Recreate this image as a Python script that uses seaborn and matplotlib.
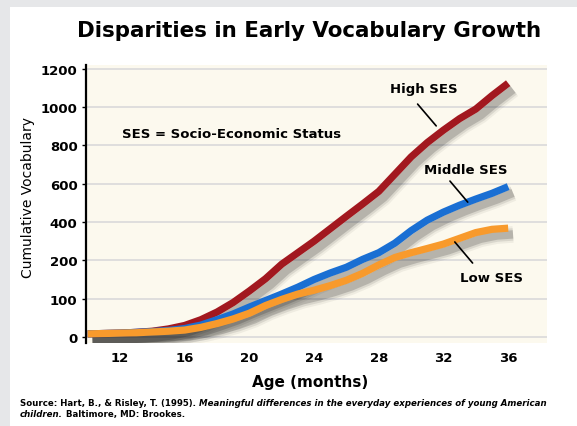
import numpy as np
import pandas as pd
import matplotlib
matplotlib.use("Agg")
import matplotlib.pyplot as plt
import matplotlib.patheffects as pe
from matplotlib.patches import Rectangle
import seaborn as sns

# values (one per month)
months = list(range(10, 37))
high_ses = [8, 9, 10, 12, 15, 21, 30, 45, 65, 90, 120, 152, 190, 240, 300, 365, 430, 494,
            560, 650, 740, 815, 880, 940, 990, 1060, 1125]
middle_ses = [8, 9, 10, 12, 14, 17, 22, 31, 45, 60, 78, 95, 112, 130, 150, 167, 182, 205,
              240, 290, 355, 410, 452, 488, 520, 550, 585]
low_ses = [8, 9, 10, 11, 13, 15, 18, 25, 35, 47, 62, 82, 98, 112, 122, 134, 148, 166,
           188, 215, 240, 262, 285, 315, 345, 362, 368]

series_names = ["High SES", "Middle SES", "Low SES"]
series_colors = ["#a2181f", "#1a6fd3", "#f89a2c"]

y_tick_values = [0, 100, 200, 400, 600, 800, 1000, 1200]
x_tick_values = [12, 16, 20, 24, 28, 32, 36]

df = pd.DataFrame({
    "Age": months * 3,
    "Vocabulary": high_ses + middle_ses + low_ses,
    "SES": [n for n in series_names for _ in months],
})

# the original axis spaces its tick labels evenly (0, 100, 200, 400, ...)
tick_pos = np.arange(len(y_tick_values), dtype=float)
tick_val = np.array(y_tick_values, dtype=float)


def fwd(v):
    v = np.asarray(v, dtype=float)
    return np.where(v < 0, v / 100.0,
                    np.where(v > 1200, 7 + (v - 1200) / 200.0, np.interp(v, tick_val, tick_pos)))


def inv(p):
    p = np.asarray(p, dtype=float)
    return np.where(p < 0, p * 100.0,
                    np.where(p > 7, 1200 + (p - 7) * 200.0, np.interp(p, tick_pos, tick_val)))


sns.set_style("white")
plt.rcParams["font.family"] = ["DejaVu Sans"]
plt.rcParams["text.color"] = "black"
plt.rcParams["xtick.color"] = "black"
plt.rcParams["ytick.color"] = "black"

W, H = 577, 427
fig = plt.figure(figsize=(W / 100, H / 100), dpi=100)
fig.patch.set_facecolor("#e6e7e9")
fig.patches.append(Rectangle((10 / W, 0), 1, 1 - 8 / H, transform=fig.transFigure,
                             facecolor="white", edgecolor="none", zorder=-10))

ax = fig.add_axes([86 / W, 1 - 343.7 / H, (547 - 86) / W, (343.7 - 66) / H])
ax.set_facecolor("#fcf9ee")

sns.lineplot(data=df, x="Age", y="Vocabulary", hue="SES", hue_order=series_names,
             palette=series_colors, linewidth=5.2, legend=False, ax=ax, zorder=3)

# soft drop shadow under each curve
for line in ax.lines:
    line.set_solid_capstyle("butt")
    line.set_solid_joinstyle("round")
    line.set_path_effects([
        pe.SimpleLineShadow(offset=(3.5, -4.5), shadow_color="black", alpha=0.05, linewidth=12),
        pe.SimpleLineShadow(offset=(3.5, -4.5), shadow_color="black", alpha=0.09, linewidth=9),
        pe.SimpleLineShadow(offset=(3.5, -4.5), shadow_color="black", alpha=0.16, linewidth=6),
        pe.Normal(),
    ])

ax.set_yscale("function", functions=(fwd, inv))
ax.set_ylim(-15, 1220)
ax.set_xlim(9.9, 38.4)
ax.set_yticks(y_tick_values)
ax.set_yticklabels([str(v) for v in y_tick_values], fontsize=9.5, fontweight="bold")
ax.set_xticks(x_tick_values)
ax.set_xticklabels([str(v) for v in x_tick_values], fontsize=9.5, fontweight="bold")
ax.yaxis.set_minor_locator(matplotlib.ticker.NullLocator())
ax.tick_params(axis="y", length=3, width=1, color="black", pad=3, direction="out", left=True)
ax.tick_params(axis="x", length=0, pad=6)
ax.grid(axis="y", color="#dcdcdc", linewidth=1.3, zorder=0)
ax.grid(axis="x", visible=False)
for side in ["top", "right", "bottom"]:
    ax.spines[side].set_visible(False)
ax.spines["left"].set_color("black")
ax.spines["left"].set_linewidth(1.6)

ax.set_xlabel("")
ax.set_ylabel("")
fig.text(28 / W, 1 - 197 / H, "Cumulative Vocabulary", rotation=90, ha="center", va="center",
         fontsize=10)
fig.text(310 / W, 1 - 383 / H, "Age (months)", ha="center", va="center",
         fontsize=11, fontweight="bold")
fig.text(309 / W, 1 - 31 / H, "Disparities in Early Vocabulary Growth", ha="center", va="center",
         fontsize=15.4, fontweight="bold")

ax.text(0.078, 0.755, "SES = Socio-Economic Status", transform=ax.transAxes,
        fontsize=9.5, fontweight="bold", va="center")

# series labels with leader lines
labels = [("High SES", (31.55, 902), (30.4, 1016), (30.8, 1096)),
          ("Middle SES", (33.5, 504), (32.4, 614), (33.4, 672)),
          ("Low SES", (32.7, 296), (33.8, 193), (34.96, 154))]
for name, p1, p2, txt in labels:
    ax.plot([p1[0], p2[0]], [p1[1], p2[1]], color="black", linewidth=1.2, zorder=4)
    ax.text(txt[0], txt[1], name, ha="center", va="center", fontsize=9.5,
            fontweight="bold", zorder=5)

# source line, mixing upright and italic pieces
renderer = fig.canvas.get_renderer()
pieces = [
    [("Source: Hart, B., & Risley, T. (1995). ", "normal"),
     ("Meaningful differences in the everyday experiences of young American", "italic")],
    [("children.", "italic"), (" Baltimore, MD: Brookes.", "normal")],
]
for row, y_px in zip(pieces, [406, 417]):
    x = 20 / W
    for s, style in row:
        t = fig.text(x, 1 - y_px / H, s, fontsize=6.2, fontweight="bold", style=style,
                     va="baseline", ha="left")
        x += t.get_window_extent(renderer=renderer).width / W

fig.savefig("out.png", dpi=100)
